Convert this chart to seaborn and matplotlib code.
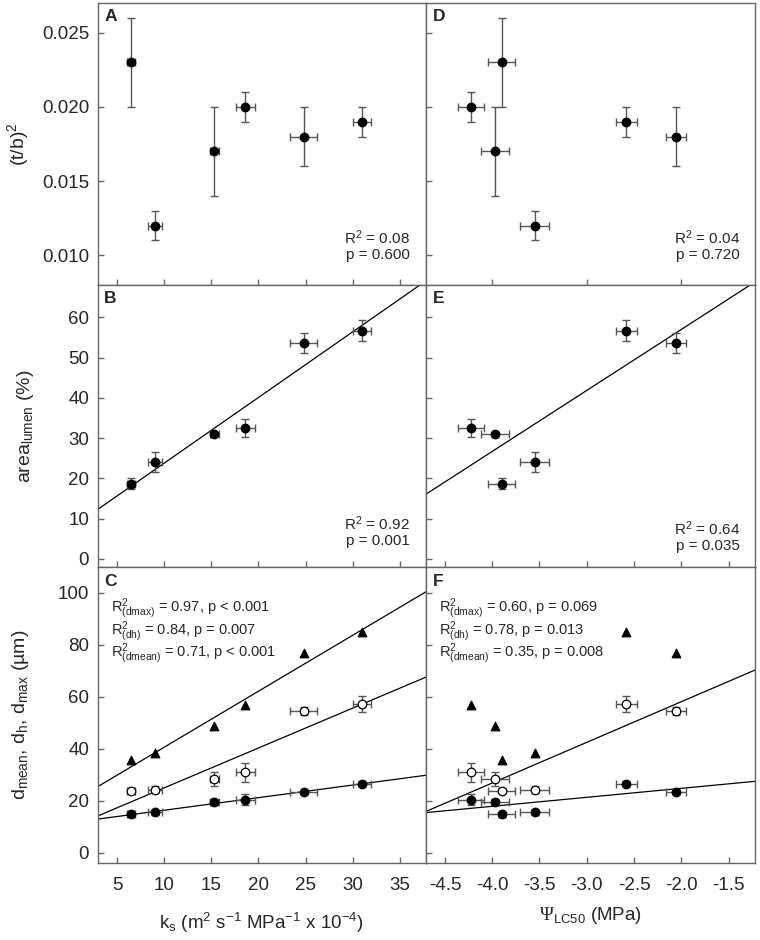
import numpy as np
import matplotlib
matplotlib.use("Agg")
import matplotlib.pyplot as plt
from matplotlib.ticker import MultipleLocator, FormatStrFormatter
import seaborn as sns

# ── Data (six species) ─────────────────────────────────────────────────────────
ks = [6.5, 9.0, 15.3, 18.6, 24.8, 31.0]
ks_err = [0.43, 0.78, 0.5, 1.0, 1.42, 1.0]
psi = [-3.90, -3.55, -3.97, -4.225, -2.055, -2.58]
psi_err = [0.14, 0.155, 0.15, 0.137, 0.11, 0.11]

tb = [0.023, 0.012, 0.017, 0.020, 0.018, 0.019]
tb_err = [0.003, 0.001, 0.003, 0.001, 0.002, 0.001]
area = [18.7, 24.0, 30.9, 32.5, 53.6, 56.7]
area_err = [1.3, 2.5, 0.7, 2.3, 2.5, 2.6]
d_mean = [14.7, 15.5, 19.5, 20.4, 23.2, 26.6]
d_mean_err = [0.8, 1.0, 1.0, 2.2, 0.6, 1.0]
d_h = [23.8, 24.3, 28.3, 30.9, 54.6, 57.2]
d_h_err = [1.0, 1.2, 2.7, 3.6, 1.5, 3.2]
d_max = [35.6, 38.2, 48.7, 56.7, 77.0, 84.9]

stats_A = "R$^2$ = 0.08\np = 0.600"
stats_B = "R$^2$ = 0.92\np = 0.001"
stats_D = "R$^2$ = 0.04\np = 0.720"
stats_E = "R$^2$ = 0.64\np = 0.035"
stats_C = ["R$^2_{\\mathrm{(dmax)}}$ = 0.97, p < 0.001",
           "R$^2_{\\mathrm{(dh)}}$ = 0.84, p = 0.007",
           "R$^2_{\\mathrm{(dmean)}}$ = 0.71, p < 0.001"]
stats_F = ["R$^2_{\\mathrm{(dmax)}}$ = 0.60, p = 0.069",
           "R$^2_{\\mathrm{(dh)}}$ = 0.78, p = 0.013",
           "R$^2_{\\mathrm{(dmean)}}$ = 0.35, p = 0.008"]

# ── Style ──────────────────────────────────────────────────────────────────────
sns.set_style("ticks")
plt.rcParams["font.family"] = ["Liberation Sans", "DejaVu Sans"]
plt.rcParams["mathtext.fontset"] = "custom"
plt.rcParams["mathtext.rm"] = "Liberation Sans"
plt.rcParams["mathtext.it"] = "Liberation Sans:italic"
plt.rcParams["mathtext.bf"] = "Liberation Sans:bold"
plt.rcParams["mathtext.tt"] = "Liberation Serif"
plt.rcParams["axes.unicode_minus"] = False

FRAME = "#666666"
ECOL = "#555555"
XL_KS = (2.9, 37.8)
XL_PSI = (-4.7, -1.22)
LABEL_FS = 14
STAT_FS = 11

fig = plt.figure(figsize=(7.6, 9.4), dpi=100)
lefts = [0.1283, 0.5605]
widths = [0.4322, 0.4329]
rows = [(0.6968, 0.3000), (0.3968, 0.3000), (0.0819, 0.3149)]
axes = [[fig.add_axes([lefts[c], rows[r][0], widths[c], rows[r][1]]) for c in range(2)]
        for r in range(3)]


def style(ax, letter):
    for s in ax.spines.values():
        s.set_visible(True)
        s.set_color(FRAME)
        s.set_linewidth(1.0)
    ax.tick_params(direction="in", length=4, width=1, color=FRAME,
                   labelsize=13.5, top=False, right=False)
    ax.tick_params(axis="x", pad=10)
    ax.tick_params(axis="y", pad=6)
    ax.text(0.02, 0.978, letter, transform=ax.transAxes, ha="left", va="top",
            fontsize=12.5, fontweight="bold")


def points(ax, x, y, xerr, yerr, marker="o", face="black"):
    if xerr is not None or yerr is not None:
        ax.errorbar(x, y, xerr=xerr, yerr=yerr, fmt="none", ecolor=ECOL,
                    elinewidth=1, capsize=3, capthick=1, zorder=2)
    sns.scatterplot(x=x, y=y, ax=ax, marker=marker, color=face, edgecolor="black",
                    linewidth=0.9, s=38, zorder=3, legend=False)


def fit(ax, x, y, xlim):
    ax.set_xlim(xlim)
    sns.regplot(x=np.array(x), y=np.array(y), ax=ax, scatter=False, ci=None,
                truncate=False, line_kws=dict(color="black", lw=0.9, zorder=1))
    ax.set_xlim(xlim)


def stat_box(ax, text, x, y):
    ax.text(x, y, text, transform=ax.transAxes, ha="right", va="bottom",
            fontsize=STAT_FS, multialignment="right", linespacing=1.1)


def stat_lines(ax, lines):
    # one text block so the three stacked R² lines stay evenly spaced
    ax.text(0.04, 0.9, "\n".join(lines), transform=ax.transAxes, ha="left",
            va="top", fontsize=10.5, linespacing=0.88)


# A
ax = axes[0][0]
points(ax, ks, tb, ks_err, tb_err)
ax.set_xlim(XL_KS)
ax.set_ylim(0.008, 0.027)
ax.yaxis.set_major_locator(MultipleLocator(0.005))
ax.set_ylabel("(t/b)$^2$", fontsize=LABEL_FS)
stat_box(ax, stats_A, 0.95, 0.08)

# D
ax = axes[0][1]
points(ax, psi, tb, psi_err, tb_err)
ax.set_xlim(XL_PSI)
ax.set_ylim(0.008, 0.027)
ax.yaxis.set_major_locator(MultipleLocator(0.005))
ax.xaxis.set_major_locator(MultipleLocator(1.0))
stat_box(ax, stats_D, 0.955, 0.08)

# B
ax = axes[1][0]
fit(ax, ks, area, XL_KS)
points(ax, ks, area, ks_err, area_err)
ax.set_ylim(-2, 68)
ax.yaxis.set_major_locator(MultipleLocator(10))
ax.set_ylabel("area$_\\mathrm{lumen}$ (%)", fontsize=LABEL_FS)
stat_box(ax, stats_B, 0.95, 0.068)

# E
ax = axes[1][1]
fit(ax, psi, area, XL_PSI)
points(ax, psi, area, psi_err, area_err)
ax.set_ylim(-2, 68)
ax.yaxis.set_major_locator(MultipleLocator(10))
ax.xaxis.set_major_locator(MultipleLocator(0.5))
stat_box(ax, stats_E, 0.955, 0.05)

# C
ax = axes[2][0]
fit(ax, ks, d_max, XL_KS)
fit(ax, ks, d_h, XL_KS)
fit(ax, ks, d_mean, XL_KS)
points(ax, ks, d_max, None, None, marker="^")
points(ax, ks, d_h, ks_err, d_h_err, face="white")
points(ax, ks, d_mean, ks_err, d_mean_err)
ax.set_ylim(-4, 110)
ax.yaxis.set_major_locator(MultipleLocator(20))
ax.xaxis.set_major_locator(MultipleLocator(5))
ax.set_ylabel("d$_\\mathrm{mean}$, d$_\\mathrm{h}$, d$_\\mathrm{max}$ (\u00b5m)", fontsize=LABEL_FS)
ax.set_xlabel("k$_\\mathrm{s}$ (m$^2$ s$^{-1}$ MPa$^{-1}$ x 10$^{-4}$)", fontsize=13.5, labelpad=12)
stat_lines(ax, stats_C)

# F
ax = axes[2][1]
fit(ax, psi, d_h, XL_PSI)
fit(ax, psi, d_mean, XL_PSI)
points(ax, psi, d_max, None, None, marker="^")
points(ax, psi, d_h, psi_err, d_h_err, face="white")
points(ax, psi, d_mean, psi_err, d_mean_err)
ax.set_ylim(-4, 110)
ax.yaxis.set_major_locator(MultipleLocator(20))
ax.xaxis.set_major_locator(MultipleLocator(0.5))
ax.xaxis.set_major_formatter(FormatStrFormatter("%.1f"))
ax.set_xlabel("$\\mathtt{\\Psi}_\\mathrm{LC50}$ (MPa)", fontsize=13.5, labelpad=8)
stat_lines(ax, stats_F)

letters = [["A", "D"], ["B", "E"], ["C", "F"]]
for r in range(3):
    for c in range(2):
        ax = axes[r][c]
        style(ax, letters[r][c])
        if r < 2:
            ax.set_xticklabels([])
            ax.set_xlabel("")
        if c == 1:
            ax.set_yticklabels([])
            ax.set_ylabel("")
for r, xc in enumerate([-0.203, -0.187, -0.203]):
    axes[r][0].yaxis.set_label_coords(xc, 0.5)
for r in range(2):
    axes[r][0].xaxis.set_major_locator(MultipleLocator(5))

fig.savefig("out.png", dpi=100)
